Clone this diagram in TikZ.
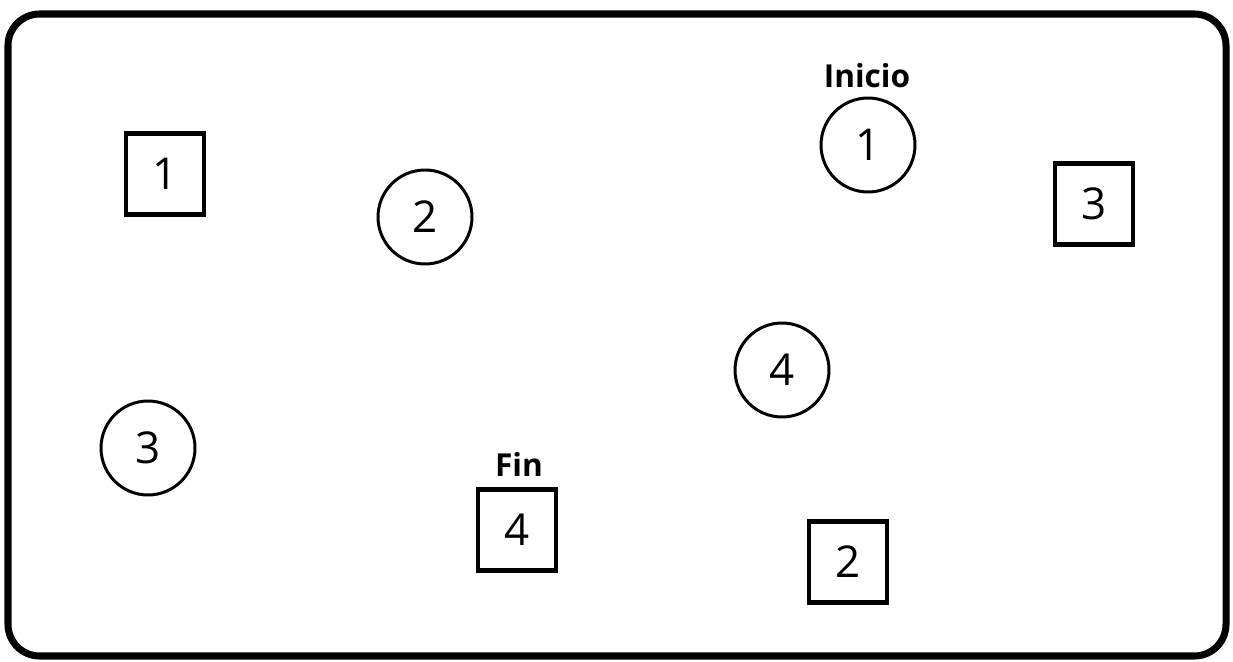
\documentclass[tikz,border=0pt]{standalone}
\usepackage{fontspec}
\setmainfont{Open Sans}
\begin{document}
\begin{tikzpicture}[x=0.02cm,y=-0.02cm,
frame/.style ={draw=black, line width=4pt, rounded corners=18pt},
box/.style ={rectangle, draw=black, line width=2.3pt,
  minimum width=1.56cm, minimum height=1.62cm, inner sep=0pt,
  font=\fontsize{25}{28}\selectfont
},
spot/.style ={circle, draw=black, line width=1.7pt,
  minimum size=1.88cm, inner sep=0pt,
  font=\fontsize{25}{28}\selectfont
},
tag/.style ={font=\bfseries\fontsize{18}{20}\selectfont, inner sep=0pt}]
\useasboundingbox (0,0) rectangle (1233,662);
\draw[frame] (8,14) rectangle (1226,656);
\node (s1) at (165,174) [box] {1};
\node (s2) at (848,562) [box] {2};
\node (s3) at (1094,204) [box] {3};
\node (s4) at (517,530) [box] {4};
\node (c1) at (868,145) [spot] {1};
\node (c2) at (425,217) [spot] {2};
\node (c3) at (148,448) [spot] {3};
\node (c4) at (782,370) [spot] {4};
\node (inicio) at (867,76) [tag] {Inicio};
\node (fin) at (519,464) [tag] {Fin};
\end{tikzpicture}
\end{document}
